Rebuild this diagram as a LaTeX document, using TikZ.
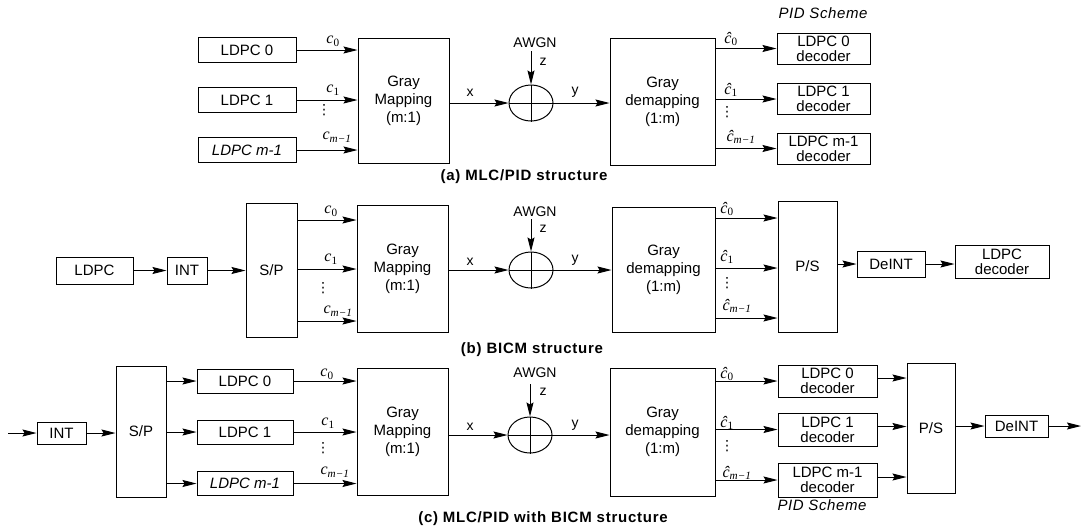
\documentclass[tikz,border=0pt]{standalone}
\usepackage{fontspec}
\setmainfont{Liberation Sans}
\newfontfamily\lblserif{Liberation Serif}
\newfontfamily\dotsfont{DejaVu Sans}
\usetikzlibrary{arrows.meta,shapes.geometric}

\begin{document}
\begin{tikzpicture}[x=1pt,y=-1pt,
    blk/.style={draw,line width=1pt,inner sep=0pt,align=center,font=\fontsize{15}{18}\selectfont},
    dec/.style={blk,font=\fontsize{15}{15}\selectfont},
    arr/.style={-{Stealth[length=14pt,width=7pt,inset=2pt]},line width=1pt},
    lbl/.style={font=\fontsize{14}{16}\selectfont,inner sep=0pt},
    mlbl/.style={font=\fontsize{16}{18}\selectfont\lblserif\itshape,inner sep=0pt},
    dots/.style={font=\fontsize{14}{14}\selectfont\dotsfont,inner sep=0pt},
    pid/.style={font=\fontsize{15}{17}\selectfont\itshape\addfontfeature{LetterSpace=4},inner sep=0pt},
    capt/.style={font=\fontsize{15}{17}\selectfont\bfseries\addfontfeature{LetterSpace=5},inner sep=0pt},
    sum/.style={draw,ellipse,line width=1pt,minimum width=44pt,minimum height=36pt,inner sep=0pt}]
  \useasboundingbox (0,0) rectangle (1083,528);

  % (a) MLC/PID
  \node[blk,minimum width=98pt,minimum height=25pt] (la0) at (247,50) {LDPC 0};
  \node[blk,minimum width=98pt,minimum height=25pt] (la1) at (247,100) {LDPC 1};
  \node[blk,minimum width=98pt,minimum height=25pt] (la2) at (247,150) {\itshape LDPC m-1};
  \node[blk,minimum width=91pt,minimum height=125pt] (gma) at (403.5,100.5) {Gray\\Mapping\\(m:1)};
  \node[sum] (suma) at (531,103) {};
  \draw[line width=1pt] (suma.north) -- (suma.south) (suma.west) -- (suma.east);
  \node[lbl] (awa) at (535,43) {AWGN};
  \node[lbl] (za) at (543,62) {z};
  \coordinate (na) at (531,51);
  \node[blk,minimum width=105pt,minimum height=127pt] (dma) at (662.5,101.5) {Gray\\demapping\\(1:m)};
  \node[dec,minimum width=93pt,minimum height=31pt] (da0) at (823.5,48.5) {LDPC 0\\decoder};
  \node[dec,minimum width=93pt,minimum height=31pt] (da1) at (823.5,99) {LDPC 1\\decoder};
  \node[dec,minimum width=93pt,minimum height=31pt] (da2) at (823.5,148.5) {LDPC m-1\\decoder};
  \node[pid] (pida) at (823,13) {PID Scheme};
  \foreach \i in {0,1,2}
    \draw[arr] (la\i.east) -- (la\i.east -| gma.west);
  \draw[arr] (gma.east |- suma.west) -- (suma.west);
  \draw[arr] (na) -- (suma.north);
  \draw[arr] (suma.east) -- (suma.east -| dma.west);
  \foreach \i in {0,1,2}
    \draw[arr] (da\i.west -| dma.east) -- (da\i.west);
  \node[mlbl] (ca0) at (333,41) {c\textsubscript{\upshape 0}};
  \node[mlbl] (ca1) at (333,90) {c\textsubscript{\upshape 1}};
  \node[mlbl] (ca2) at (337,137) {c\textsubscript{m−1}};
  \node[dots] (vca) at (324,110) {⋮};
  \node[lbl] (xa) at (470,93) {x};
  \node[lbl] (ya) at (575,92) {y};
  \node[mlbl] (ha0) at (731,39) {ĉ\textsubscript{\upshape 0}};
  \node[mlbl] (ha1) at (731,90) {ĉ\textsubscript{\upshape 1}};
  \node[mlbl] (ha2) at (741,137) {ĉ\textsubscript{m−1}};
  \node[dots] (vha) at (727,112) {⋮};
  \node[capt] (capa) at (524,177) {(a) MLC/PID structure};

  % (b) BICM
  \node[blk,minimum width=77pt,minimum height=27pt] (lb) at (94.5,270.5) {LDPC};
  \node[blk,minimum width=40pt,minimum height=27pt] (intb) at (187,270.5) {INT};
  \node[blk,minimum width=51pt,minimum height=134pt] (spb) at (271.5,270) {S/P};
  \node[blk,minimum width=91pt,minimum height=127pt] (gmb) at (402.5,268.5) {Gray\\Mapping\\(m:1)};
  \node[sum] (sumb) at (531,270) {};
  \draw[line width=1pt] (sumb.north) -- (sumb.south) (sumb.west) -- (sumb.east);
  \node[lbl] (awb) at (535,212) {AWGN};
  \node[lbl] (zb) at (543,229) {z};
  \coordinate (nb) at (531,219);
  \node[blk,minimum width=103pt,minimum height=125pt] (dmb) at (663.5,269.5) {Gray\\demapping\\(1:m)};
  \node[blk,minimum width=59pt,minimum height=131pt] (psb) at (807.5,266.5) {P/S};
  \node[blk,minimum width=68pt,minimum height=26pt] (deintb) at (891,264) {DeINT};
  \node[dec,minimum width=94pt,minimum height=33pt] (decb) at (1002,261.5) {LDPC\\decoder};
  \draw[arr] (lb) -- (intb);
  \draw[arr] (intb) -- (intb -| spb.west);
  \foreach \s in {50,1,-51}
    \draw[arr] ([yshift=\s pt]spb.east) -- ([yshift=\s pt]spb.east -| gmb.west);
  \draw[arr] (gmb.east |- sumb.west) -- (sumb.west);
  \draw[arr] (nb) -- (sumb.north);
  \draw[arr] (sumb.east) -- (sumb.east -| dmb.west);
  \foreach \s in {51.5,1.5,-48.5}
    \draw[arr] ([yshift=\s pt]dmb.east) -- ([yshift=\s pt]dmb.east -| psb.west);
  \draw[arr] (deintb.west -| psb.east) -- (deintb.west);
  \draw[arr] (deintb.east) -- (deintb.east -| decb.west);
  \node[mlbl] (cb0) at (331,211) {c\textsubscript{\upshape 0}};
  \node[mlbl] (cb1) at (331,259) {c\textsubscript{\upshape 1}};
  \node[mlbl] (cb2) at (338,311) {c\textsubscript{m−1}};
  \node[dots] (vcb) at (323,288) {⋮};
  \node[lbl] (xb) at (470,262) {x};
  \node[lbl] (yb) at (575,260) {y};
  \node[mlbl] (hb0) at (727,209) {ĉ\textsubscript{\upshape 0}};
  \node[mlbl] (hb1) at (727,257) {ĉ\textsubscript{\upshape 1}};
  \node[mlbl] (hb2) at (737,306) {ĉ\textsubscript{m−1}};
  \node[dots] (vhb) at (727,283) {⋮};
  \node[capt] (capb) at (532,350) {(b) BICM structure};

  % (c) MLC/PID with BICM
  \coordinate (inc0) at (8,433);
  \node[blk,minimum width=49pt,minimum height=22pt] (intc) at (61.5,433) {INT};
  \node[blk,minimum width=50pt,minimum height=131pt] (spc) at (141,431.5) {S/P};
  \node[blk,minimum width=96pt,minimum height=24pt] (lc0) at (245,381) {LDPC 0};
  \node[blk,minimum width=96pt,minimum height=24pt] (lc1) at (245,432) {LDPC 1};
  \node[blk,minimum width=96pt,minimum height=24pt] (lc2) at (245,483.5) {\itshape LDPC m-1};
  \node[blk,minimum width=91pt,minimum height=127pt] (gmc) at (402.5,431.5) {Gray\\Mapping\\(m:1)};
  \node[sum] (sumc) at (530,435) {};
  \draw[line width=1pt] (sumc.north) -- (sumc.south) (sumc.west) -- (sumc.east);
  \node[lbl] (awc) at (535,373) {AWGN};
  \node[lbl] (zc) at (543,392) {z};
  \coordinate (nc) at (530,384);
  \node[blk,minimum width=105pt,minimum height=128pt] (dmc) at (662.5,432) {Gray\\demapping\\(1:m)};
  \node[dec,minimum width=99pt,minimum height=32pt] (dc0) at (827.5,381) {LDPC 0\\decoder};
  \node[dec,minimum width=99pt,minimum height=33pt] (dc1) at (827.5,429.5) {LDPC 1\\decoder};
  \node[dec,minimum width=99pt,minimum height=34pt] (dc2) at (827.5,480) {LDPC m-1\\decoder};
  \node[blk,minimum width=48pt,minimum height=130pt] (psc) at (931,428) {P/S};
  \node[blk,minimum width=63pt,minimum height=22pt] (deintc) at (1016.5,426) {DeINT};
  \coordinate (outc) at (1081,426);
  \node[pid] (pidc) at (822,505) {PID Scheme};
  \draw[arr] (inc0) -- (intc);
  \draw[arr] (intc) -- (intc -| spc.west);
  \foreach \i in {0,1,2} {
    \draw[arr] (lc\i.west -| spc.east) -- (lc\i.west);
    \draw[arr] (lc\i.east) -- (lc\i.east -| gmc.west);
    \draw[arr] (dc\i.west -| dmc.east) -- (dc\i.west);
    \draw[arr] ([yshift=3pt]dc\i.east) -- ([yshift=3pt]dc\i.east -| psc.west);
  }
  \draw[arr] (gmc.east |- sumc.west) -- (sumc.west);
  \draw[arr] (nc) -- (sumc.north);
  \draw[arr] (sumc.east) -- (sumc.east -| dmc.west);
  \draw[arr] (deintc.west -| psc.east) -- (deintc.west);
  \draw[arr] (deintc) -- (outc);
  \node[mlbl] (cc0) at (327,374) {c\textsubscript{\upshape 0}};
  \node[mlbl] (cc1) at (328,423) {c\textsubscript{\upshape 1}};
  \node[mlbl] (cc2) at (335,472) {c\textsubscript{m−1}};
  \node[dots] (vcc) at (323,448) {⋮};
  \node[lbl] (xc) at (470,427) {x};
  \node[lbl] (yc) at (575,425) {y};
  \node[mlbl] (hc0) at (727,374) {ĉ\textsubscript{\upshape 0}};
  \node[mlbl] (hc1) at (727,423) {ĉ\textsubscript{\upshape 1}};
  \node[mlbl] (hc2) at (737,473) {ĉ\textsubscript{m−1}};
  \node[dots] (vhc) at (727,446) {⋮};
  \node[capt] (capc) at (543,519) {(c) MLC/PID with BICM structure};
\end{tikzpicture}
\end{document}
